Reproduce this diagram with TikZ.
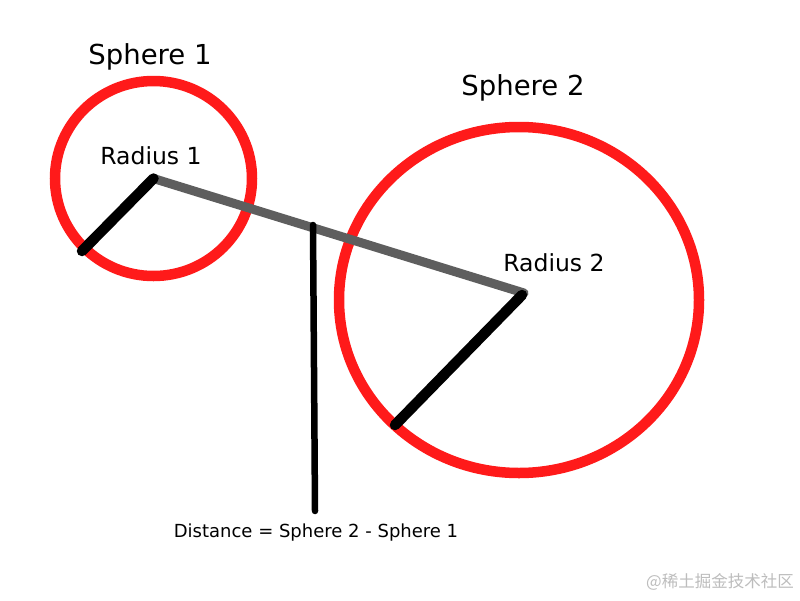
\documentclass[tikz,border=0pt]{standalone}
\usepackage{fontspec}
\setmainfont{DejaVu Sans}
\newfontfamily\cjk{Noto Sans CJK SC}
\definecolor{sphred}{HTML}{FF1A1A}
\definecolor{distgray}{HTML}{5E5E5E}
\definecolor{wmgray}{HTML}{BDBDBD}
\begin{document}
\begin{tikzpicture}[x=1pt,y=-1pt,
  sphere/.style={draw=sphred,line width=10.5pt},
  radline/.style={draw=black,line width=10.5pt,line cap=round},
  distline/.style={draw=distgray,line width=9pt,line cap=round},
  vline/.style={draw=black,line width=6.5pt,line cap=round},
  lbl/.style={inner sep=0pt,text=black}]
\useasboundingbox (0,0) rectangle (800,600);
\fill[white] (0,0) rectangle (800,600);
\coordinate (c1) at (153.5,178.5);
\coordinate (c2) at (519,300);
\coordinate (p1) at (82,251);
\coordinate (r2) at (522,295);
\coordinate (g2) at (524,293);
\coordinate (p2) at (395,425);
\coordinate (dtop) at (313,225);
\coordinate (dbot) at (315,511);
\draw[sphere] (c1) ellipse [x radius=98.5, y radius=97.5];
\draw[sphere] (c2) ellipse [x radius=180, y radius=173];
\draw[distline] (c1) -- (g2);
\draw[radline] (c1) -- (p1);
\draw[radline] (r2) -- (p2);
\draw[vline] (dtop) -- (dbot);
\node[lbl,font=\fontsize{27.5}{32}\selectfont] (s1) at (150,57) {Sphere 1};
\node[lbl,font=\fontsize{27.5}{32}\selectfont] (s2) at (523,88) {Sphere 2};
\node[lbl,font=\fontsize{23.5}{28}\selectfont] (r1l) at (151,156) {Radius 1};
\node[lbl,font=\fontsize{23.5}{28}\selectfont] (r2l) at (554,263) {Radius 2};
\node[lbl,font=\fontsize{18}{21}\selectfont] (dl) at (316,533) {Distance = Sphere 2 - Sphere 1};
\node[lbl,text=wmgray,font=\cjk\fontsize{16.5}{19}\selectfont] (wm) at (720,582) {@稀土掘金技术社区};
\end{tikzpicture}
\end{document}
